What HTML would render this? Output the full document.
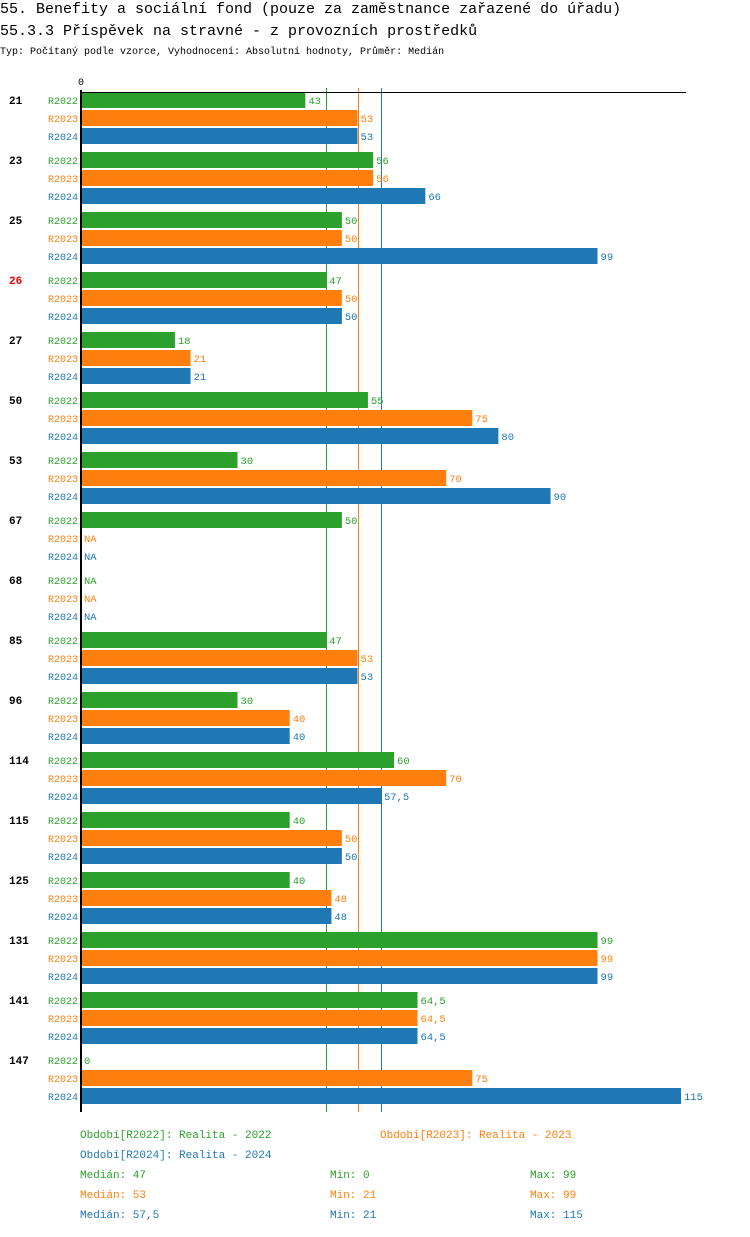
<!DOCTYPE html>
<html><head><meta charset="utf-8"><style>
body{margin:0;background:#fff;width:750px;height:1232px;overflow:hidden;font-family:"Liberation Mono",monospace}
svg text{font-family:"Liberation Mono","DejaVu Sans Mono",monospace}
</style></head><body>
<svg id="c" width="750" height="1232">
<text x="0" y="13" font-size="15">55. Benefity a sociální fond (pouze za zaměstnance zařazené do úřadu)</text>
<text x="0" y="35" font-size="15">55.3.3 Příspěvek na stravné - z provozních prostředků</text>
<text x="0" y="54" font-size="10">Typ: Počítaný podle vzorce, Vyhodnocení: Absolutní hodnoty, Průměr: Medián</text>
<text x="78" y="85" font-size="10">0</text>
<g id="lines"></g>
<g id="marks"></g>
<line x1="81" y1="92.5" x2="686" y2="92.5" stroke="#000"/>
<line x1="81" y1="90" x2="81" y2="1112" stroke="#000" stroke-width="2"/>
<g id="foot" font-size="11">
<text x="80" y="1138" fill="#2ca02c">Období[R2022]: Realita - 2022</text>
<text x="380" y="1138" fill="#ff7f0e">Období[R2023]: Realita - 2023</text>
<text x="80" y="1158" fill="#1f77b4">Období[R2024]: Realita - 2024</text>
<text x="80" y="1178" fill="#2ca02c">Medián: 47</text>
<text x="330" y="1178" fill="#2ca02c">Min: 0</text>
<text x="530" y="1178" fill="#2ca02c">Max: 99</text>
<text x="80" y="1198" fill="#ff7f0e">Medián: 53</text>
<text x="330" y="1198" fill="#ff7f0e">Min: 21</text>
<text x="530" y="1198" fill="#ff7f0e">Max: 99</text>
<text x="80" y="1218" fill="#1f77b4">Medián: 57,5</text>
<text x="330" y="1218" fill="#1f77b4">Min: 21</text>
<text x="530" y="1218" fill="#1f77b4">Max: 115</text>
</g>
</svg>
<script>
const categories=["21","23","25","26","27","50","53","67","68","85","96","114","115","125","131","141","147"];
const seriesNames=["R2022","R2023","R2024"];
const r2022=[43,56,50,47,18,55,30,50,null,47,30,60,40,40,99,64.5,0];
const r2023=[53,56,50,50,21,75,70,null,null,53,40,70,50,48,99,64.5,75];
const r2024=[53,66,99,50,21,80,90,null,null,53,40,57.5,50,48,99,64.5,115];
const medians=[47,53,57.5];
const highlighted=["26"];
const colors=["#2ca02c","#ff7f0e","#1f77b4"];
const xMax=115;
const x=v=>81+v*600/xMax;
const yTop=(i,j)=>92+i*60+j*18;
const NS="http://www.w3.org/2000/svg";
const g=document.getElementById("marks");
const lg=document.getElementById("lines");
function mk(t,a,p){const e=document.createElementNS(NS,t);for(const k in a)e.setAttribute(k,a[k]);(p||g).appendChild(e);return e;}
const fmt=v=>String(v).replace(".",",");
const series=[r2022,r2023,r2024];
medians.forEach((m,j)=>{
  const px=Math.round(x(m))+0.5;
  const l=mk("line",{x1:px,x2:px,y1:88,y2:1112,stroke:colors[j],"stroke-width":1},lg);
  
  
});
categories.forEach((c,i)=>{
  const t=mk("text",{x:9,y:yTop(i,0)+12,"font-size":11,"font-weight":"bold","font-family":"Liberation Sans, sans-serif",fill:highlighted.includes(c)?"#e00":"#000"});
  
  
  t.textContent=c;
  series.forEach((s,j)=>{
    const y=yTop(i,j);
    const lab=mk("text",{x:78,y:y+12,"font-size":10,"text-anchor":"end",fill:colors[j]});
    
    
    lab.textContent=seriesNames[j];
    const v=s[i];
    if(v!==null){
      const r=mk("rect",{x:81,y:y,width:x(v)-81,height:16,fill:colors[j]});
      
      
    }
    const vt=mk("text",{x:(v===null?81:x(v))+3,y:y+12,"font-size":10.5,fill:colors[j]});
    
    
    vt.textContent=v===null?"NA":fmt(v);
  });
});
</script>
</body></html>
